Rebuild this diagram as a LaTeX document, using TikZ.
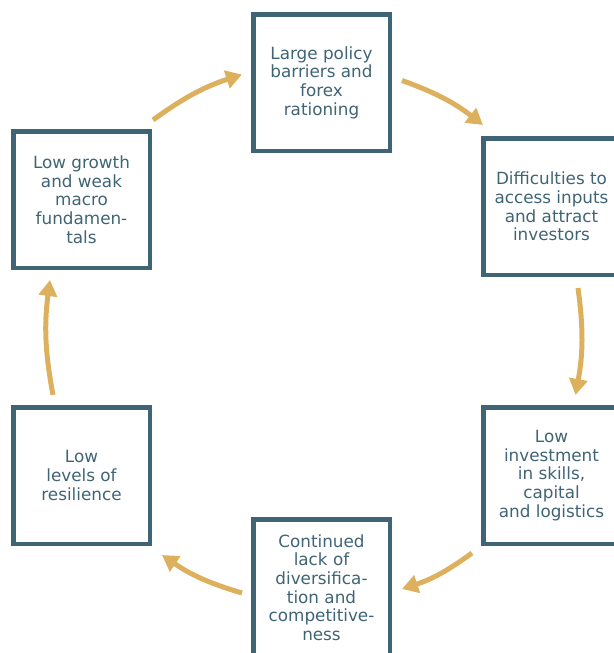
\documentclass[tikz,border=0pt]{standalone}
\usepackage{fontspec}
\setmainfont{DejaVu Sans}
\usepackage{xcolor}
\usepackage{tikz}
\usetikzlibrary{calc,arrows.meta}
\definecolor{frame}{HTML}{3F6475}
\definecolor{loop}{HTML}{DDB05E}

\begin{document}
\begin{tikzpicture}[x=1pt, y=-1pt,
  box/.style={draw=frame, line width=4.5pt, minimum size=136.5pt, inner sep=0pt,
              align=center, text=frame, font=\fontsize{16.8}{18.7}\selectfont},
  cycle/.style={draw=loop, line width=5pt, -{Triangle[length=16pt, width=18pt]}, bend left=9}]
\useasboundingbox (0,0) rectangle (613,653);
% the six boxes round the cycle
\node[box] (policy)     at (321.5, 82.5)  {Large policy\\barriers and\\forex\\rationing};
\node[box] (access)     at (551.5, 206.5) {Difficulties to\\access inputs\\and attract\\investors};
\node[box] (invest)     at (551.5, 475.5) {Low\\investment\\in skills,\\capital\\and logistics};
\node[box] (diversify)  at (321.5, 587.5) {Continued\\lack of\\diversifica-\\tion and\\competitive-\\ness};
\node[box] (resilience) at (81.5, 475.5)  {Low\\levels of\\resilience};
\node[box] (growth)     at (81.5, 199.5)  {Low growth\\and weak\\macro\\fundamen-\\tals};

% curved arrows, clockwise
\draw[cycle] ($(growth.north east)+(1,-9)$)       to ($(policy.west)+(-9,-8)$);
\draw[cycle] ($(policy.east)+(10,-2)$)            to ($(access.north west)+(2,-11)$);
\draw[cycle] ($(access.south)+(26.5,11)$)         to ($(invest.north)+(24,-10)$);
\draw[cycle] ($(invest.south west)+(-9,7)$)       to ($(diversify.east)+(10,1.5)$);
\draw[cycle] ($(diversify.west)+(-9,5.5)$)        to ($(resilience.south east)+(10,9)$);
\draw[cycle] ($(resilience.north)+(-28.5,-10)$)   to ($(growth.south)+(-31.5,10)$);
\end{tikzpicture}
\end{document}
